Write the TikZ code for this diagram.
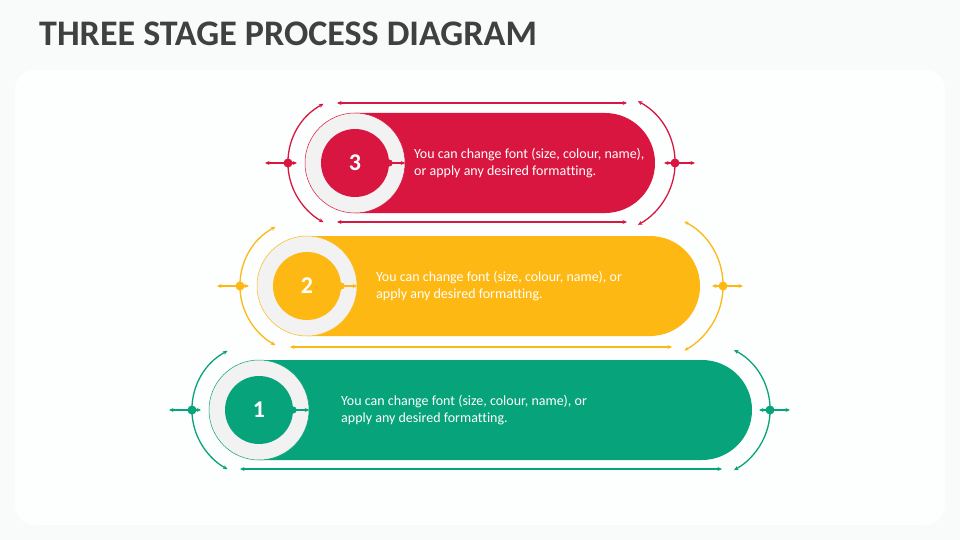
\documentclass[tikz,border=0pt]{standalone}
\usepackage{fontspec}
\setmainfont{Carlito}[Ligatures=NoCommon]
\usetikzlibrary{calc,arrows.meta}
\definecolor{cred}{HTML}{D9163F}
\definecolor{cyel}{HTML}{FDB813}
\definecolor{cgrn}{HTML}{07A37A}
\definecolor{ringc}{HTML}{F2F2F2}
\definecolor{titlec}{HTML}{404040}
\definecolor{bgc}{HTML}{F9FBFB}
\definecolor{panelc}{HTML}{FDFEFE}
\tikzset{
  tip/.tip={Stealth[length=4.5pt,width=4pt]},
  guide/.style={line width=1.3pt, -tip},
  dguide/.style={line width=1.3pt, tip-tip},
  ringnode/.style={circle, fill=ringc, draw=#1, line width=0.5pt, minimum size=100pt, inner sep=0pt},
  corenode/.style={circle, fill=#1, minimum size=68pt, inner sep=0pt, text=white, font=\bfseries\fontsize{24}{28}\selectfont},
  dotnode/.style={circle, fill=#1, minimum size=9pt, inner sep=0pt},
  smalldot/.style={circle, fill=#1, minimum size=7pt, inner sep=0pt},
  desc/.style={text=white, align=left, anchor=west, font=\fontsize{14}{17}\selectfont, inner sep=0pt},
}
% #1 id, #2 colour, #3 ring centre x, #4 right centre x, #5 centre y, #6 number, #7 text x, #8 text, #9 right arc radius
\newcommand\stagepic[9]{%
  \fill[#2] (#3,#5-50) -- (#4,#5-50) arc[start angle=90,end angle=-90,radius=50pt] -- (#3,#5+50) -- cycle;
  \node[ringnode=#2] (r#1) at (#3,#5) {};
  \node[corenode=#2] (c#1) at (#3,#5) {#6};
  \node[smalldot=#2] (d#1) at (c#1.east) {};
  \draw[guide,#2] (d#1.center) -- (r#1.east);
  \node[desc] (t#1) at (#7,#5) {#8};
  % left arc
  \coordinate (la#1) at ($(#3,#5)+(118:67pt)$);
  \draw[dguide,#2] (la#1) arc[start angle=118,end angle=242,radius=67pt];
  \coordinate (lw#1) at (#3-90,#5);
  \coordinate (le#1) at (#3-58,#5);
  \draw[dguide,#2] (lw#1) -- (le#1);
  \node[dotnode=#2] (ld#1) at (#3-67,#5) {};
  % right arc
  \coordinate (ra#1) at ($(#4,#5)+(62:#9pt)$);
  \draw[dguide,#2] (ra#1) arc[start angle=62,end angle=-62,radius=#9pt];
  \coordinate (rw#1) at (#4+#9-11,#5);
  \coordinate (re#1) at (#4+#9+20,#5);
  \draw[dguide,#2] (rw#1) -- (re#1);
  \node[dotnode=#2] (rd#1) at (#4+#9,#5) {};
}
\begin{document}
\begin{tikzpicture}[x=1pt,y=-1pt]
  \fill[bgc] (0,0) rectangle (960,540);
  \fill[panelc, rounded corners=20pt] (15,70) rectangle (945,525);
  \useasboundingbox (0,0) rectangle (960,540);
  \node[anchor=base west, inner sep=0pt, text=titlec, font=\bfseries\fontsize{36}{40}\selectfont] (title) at (39,46) {THREE STAGE PROCESS DIAGRAM};

  \stagepic{3}{cred}{355}{605}{163}{3}{414}{You can change font (size, colour, name),\\or apply any desired formatting.}{70}
  \stagepic{2}{cyel}{307}{650}{286}{2}{376}{You can change font (size, colour, name), or\\apply any desired formatting.}{73}
  \stagepic{1}{cgrn}{259}{702}{410}{1}{341}{You can change font (size, colour, name), or\\apply any desired formatting.}{68}

  % horizontal guide lines
  \coordinate (h3a) at (337,103); \coordinate (h3b) at (627,103);
  \draw[dguide,cred] (h3a) -- (h3b);
  \coordinate (h3c) at (337,222); \coordinate (h3d) at (627,222);
  \draw[dguide,cred] (h3c) -- (h3d);
  \coordinate (h2a) at (290,347); \coordinate (h2b) at (672,347);
  \draw[dguide,cyel] (h2a) -- (h2b);
  \coordinate (h1a) at (240,469); \coordinate (h1b) at (722,469);
  \draw[dguide,cgrn] (h1a) -- (h1b);
\end{tikzpicture}
\end{document}
